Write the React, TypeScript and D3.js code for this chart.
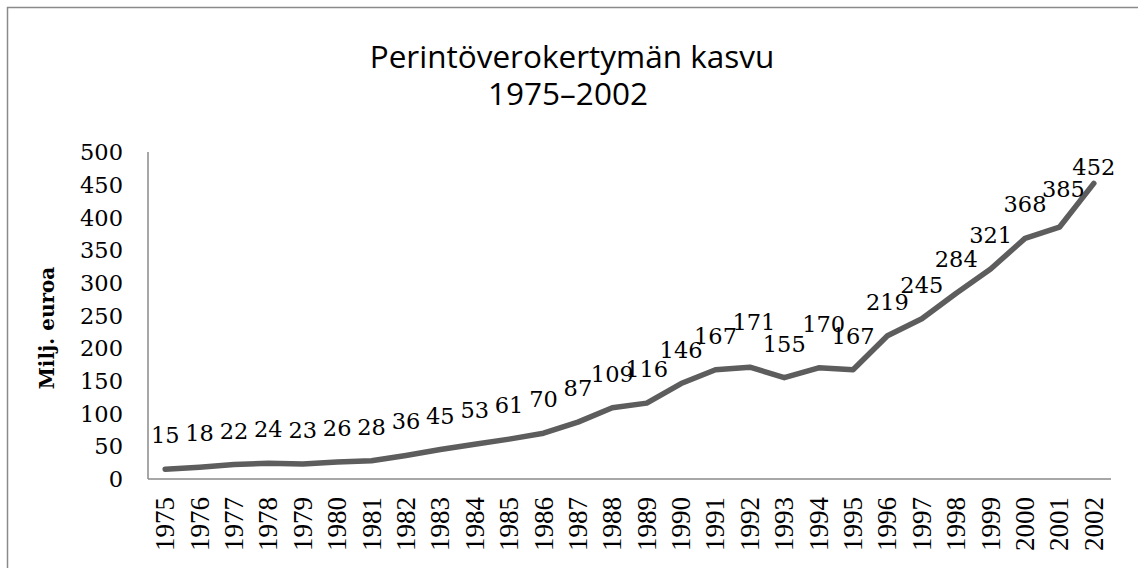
import React from "react";
import * as d3 from "d3";

const years: string[] = ["1975","1976","1977","1978","1979","1980","1981","1982","1983","1984","1985","1986","1987","1988","1989","1990","1991","1992","1993","1994","1995","1996","1997","1998","1999","2000","2001","2002"];
const values: number[] = [15,18,22,24,23,26,28,36,45,53,61,70,87,109,116,146,167,171,155,170,167,219,245,284,321,368,385,452];
const yTicks: number[] = [0,50,100,150,200,250,300,350,400,450,500];
const titleLines: string[] = ["Perintöverokertymän kasvu", "1975–2002"];
const yTitle = "Milj. euroa";
// manual label nudges (as in the original chart)
const labelNudge: Record<string, [number, number]> = { "1992": [4, -11], "1994": [5, -10], "2001": [4, -4] };

const W = 1138, H = 568;
const plot = { left: 148, right: 1111, top: 152, bottom: 479 };

export default function App() {
  const x = d3.scaleBand<string>().domain(years).range([plot.left, plot.right]).padding(0);
  const y = d3.scaleLinear().domain([0, 500]).range([plot.bottom, plot.top]);
  const cx = (d: string) => (x(d) ?? 0) + x.bandwidth() / 2;
  const line = d3.line<number>().x((_, i) => cx(years[i])).y(v => y(v));
  const serif = "'DejaVu Serif', serif";
  return (
    <svg width={W} height={H} style={{ position: "absolute", left: 0, top: 0, background: "#fff" }}>
      <rect x={7.5} y={7.5} width={W + 10} height={H + 10} fill="#fff" stroke="#8a8a8a" strokeWidth={1.5} />
      <g fontFamily="'Open Sans', sans-serif" fontSize={31.5} fill="#000" textAnchor="middle">
        <text x={572} y={68}>{titleLines[0]}</text>
        <text x={568} y={105}>{titleLines[1]}</text>
      </g>
      <line x1={plot.left} x2={plot.left} y1={plot.top} y2={plot.bottom} stroke="#8a8a8a" strokeWidth={1.5} />
      <line x1={plot.left} x2={plot.right} y1={plot.bottom} y2={plot.bottom} stroke="#8a8a8a" strokeWidth={1.5} />
      <g fontFamily={serif} fontSize={22.5} textAnchor="end">
        {yTicks.map(t => (
          <text key={t} x={123} y={y(t)} dy="0.36em">{t}</text>
        ))}
      </g>
      <text transform={`translate(54,328) rotate(-90)`} textAnchor="middle" fontFamily={serif} fontWeight="bold" fontSize={20}>{yTitle}</text>
      <g fontFamily="'Liberation Serif', serif" fontSize={27} textAnchor="end">
        {years.map(yr => (
          <text key={yr} transform={`translate(${cx(yr) + 9},497) rotate(-90)`}>{yr}</text>
        ))}
      </g>
      <path d={line(values) ?? ""} fill="none" stroke="#5d5d5d" strokeWidth={5.5} strokeLinejoin="round" strokeLinecap="round" />
      <g fontFamily={serif} fontSize={22.5} textAnchor="middle">
        {values.map((v, i) => {
          const n = labelNudge[years[i]] ?? [0, 0];
          return (
            <text key={i} x={cx(years[i]) + n[0]} y={Math.max(175, y(v) - 26 + n[1])}>{v}</text>
          );
        })}
      </g>
    </svg>
  );
}
